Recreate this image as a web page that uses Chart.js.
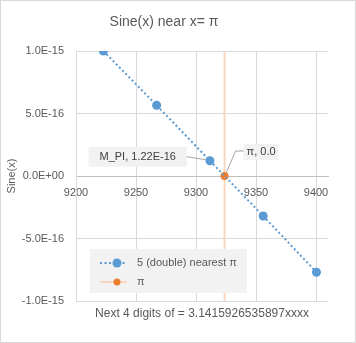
<!DOCTYPE html>
<html><head><meta charset="utf-8">
<script src="https://cdn.jsdelivr.net/npm/chart.js@4/dist/chart.umd.min.js"></script>
<style>
html,body{margin:0;padding:0;background:#fff;}
canvas{display:block;}
</style></head><body>
<canvas id="c" width="356" height="343"></canvas>
<script>
// ---- data ----
const titleText = 'Sine(x) near x= π';
const xTitleText = 'Next 4 digits of = 3.1415926535897xxxx';
const yTitleText = 'Sine(x)';
const seriesName = '5 (double) nearest π';
const piName = 'π';
const nearestX = [9222.8, 9267.2, 9311.6, 9356.0, 9400.4];
const nearestSin = [1.0e-15, 5.66e-16, 1.22e-16, -3.2e-16, -7.7e-16];
const piX = [9323.8];
const piSin = [0];
const mpiIndex = 2;
const mpiLabelName = 'M_PI';
const xTicks = [9200, 9250, 9300, 9350, 9400];
const yTicks = [-1e-15, -5e-16, 0, 5e-16, 1e-15];
const xMin = 9200, xMax = 9410;
const yMin = -1e-15, yMax = 1e-15;

const FONT = "'Liberation Sans', Arial, sans-serif";
const TXT = '#595959';
const BLUE = '#5b9bd5';
const ORANGE = '#ed7d31';
const ORANGE_LIGHT = '#f9d6bf';

function fmtE(v, d) {
  if (Math.abs(v) < 1e-30) v = 0;
  const s = v.toExponential(d).toUpperCase();
  const m = s.match(/^(-?[\d.]+)E([+-])(\d+)$/);
  return m[1] + 'E' + m[2] + (m[3].length < 2 ? '0' + m[3] : m[3]);
}

const nearestData = nearestX.map((x, i) => ({x: x, y: nearestSin[i]}));
const piLineData = [{x: piX[0], y: yMin}, {x: piX[0], y: piSin[0]}, {x: piX[0], y: yMax}];

const overlay = {
  id: 'overlay',
  afterDatasetsDraw(chart) {
    const ctx = chart.ctx;
    const xs = chart.scales.x, ys = chart.scales.y;
    ctx.save();
    ctx.font = "11px " + FONT;
    ctx.textBaseline = 'middle';
    // M_PI label
    const px = xs.getPixelForValue(nearestX[mpiIndex]);
    const py = ys.getPixelForValue(nearestSin[mpiIndex]);
    const t1 = mpiLabelName + ', ' + fmtE(nearestSin[mpiIndex], 2);
    const w1 = ctx.measureText(t1).width + 22;
    const bx1 = px - 23 - w1, by1 = py - 14;
    ctx.fillStyle = '#f2f2f2';
    ctx.fillRect(bx1, by1, w1, 20);
    ctx.strokeStyle = '#a6a6a6'; ctx.lineWidth = 1;
    ctx.beginPath(); ctx.moveTo(bx1 + w1, py - 4); ctx.lineTo(px - 4, py - 1); ctx.stroke();
    ctx.fillStyle = '#404040'; ctx.textAlign = 'center';
    ctx.fillText(t1, bx1 + w1 / 2, by1 + 10);
    // pi label
    const qx = xs.getPixelForValue(piX[0]);
    const qy = ys.getPixelForValue(piSin[0]);
    const t2 = piName + ', ' + piSin[0].toFixed(1);
    const w2 = ctx.measureText(t2).width + 6;
    const bx2 = qx + 19, by2 = qy - 32;
    ctx.fillStyle = '#f2f2f2';
    ctx.fillRect(bx2, by2, w2, 16);
    ctx.strokeStyle = '#a6a6a6';
    ctx.beginPath(); ctx.moveTo(qx + 2, qy - 4); ctx.lineTo(qx + 11, qy - 25); ctx.lineTo(bx2, qy - 25); ctx.stroke();
    ctx.fillStyle = '#404040';
    ctx.fillText(t2, bx2 + w2 / 2, by2 + 8);
    // legend
    const lx = 90, ly = 249, lw = 157, lh = 44;
    ctx.fillStyle = '#f2f2f2';
    ctx.fillRect(lx, ly, lw, lh);
    const ds = chart.data.datasets;
    const rows = [ly + 14, ly + 33];
    ctx.strokeStyle = BLUE; ctx.lineWidth = 2; ctx.setLineDash([2, 2.5]);
    ctx.beginPath(); ctx.moveTo(lx + 10, rows[0]); ctx.lineTo(lx + 37, rows[0]); ctx.stroke();
    ctx.setLineDash([]);
    ctx.fillStyle = BLUE; ctx.beginPath(); ctx.arc(lx + 27, rows[0], 4.5, 0, Math.PI * 2); ctx.fill();
    ctx.strokeStyle = ORANGE_LIGHT; ctx.lineWidth = 2;
    ctx.beginPath(); ctx.moveTo(lx + 10, rows[1]); ctx.lineTo(lx + 37, rows[1]); ctx.stroke();
    ctx.fillStyle = ORANGE; ctx.beginPath(); ctx.arc(lx + 27, rows[1], 3.5, 0, Math.PI * 2); ctx.fill();
    ctx.fillStyle = TXT; ctx.textAlign = 'left';
    ctx.fillText(ds[0].label, lx + 47, rows[0]);
    ctx.fillText(ds[1].label, lx + 47, rows[1]);
    // chart border
    ctx.strokeStyle = '#d9d9d9'; ctx.lineWidth = 1;
    ctx.strokeRect(0.5, 0.5, chart.width - 1, chart.height - 1);
    ctx.restore();
  }
};

new Chart(document.getElementById('c'), {
  type: 'scatter',
  data: {
    datasets: [
      {
        label: seriesName,
        data: nearestData,
        showLine: true,
        borderColor: BLUE,
        borderWidth: 2,
        borderDash: [2, 2.5],
        backgroundColor: BLUE,
        pointBackgroundColor: BLUE,
        pointBorderWidth: 0,
        pointRadius: 4.5,
        order: 1
      },
      {
        label: piName,
        data: piLineData,
        showLine: true,
        borderColor: ORANGE_LIGHT,
        borderWidth: 2,
        backgroundColor: ORANGE,
        pointBackgroundColor: ORANGE,
        pointBorderWidth: 0,
        pointRadius: [0, 4, 0],
        order: 2
      }
    ]
  },
  options: {
    responsive: false,
    animation: false,
    layout: {padding: {left: 0, right: 28, top: 0, bottom: 0}},
    plugins: {
      legend: {display: false},
      tooltip: {enabled: false},
      title: {
        display: true, text: titleText, color: TXT,
        font: {family: FONT, size: 14, weight: 'normal', lineHeight: 1.2},
        padding: {top: 14, bottom: 20.2}
      },
      subtitle: {
        display: true, position: 'bottom', fullSize: false, text: xTitleText, color: TXT,
        font: {family: FONT, size: 12, weight: 'normal', lineHeight: 1.2},
        padding: {top: 5, bottom: 22.6}
      }
    },
    scales: {
      x: {
        type: 'linear', min: xMin, max: xMax,
        position: {y: 0},
        afterBuildTicks: (s) => { s.ticks = xTicks.map(v => ({value: v})); },
        grid: {color: '#d9d9d9', drawTicks: false, lineWidth: 1},
        border: {display: true, color: '#bfbfbf'},
        ticks: {color: TXT, font: {family: FONT, size: 11}, padding: 10, maxRotation: 0, callback: (v) => String(v)}
      },
      y: {
        type: 'linear', min: yMin, max: yMax, position: 'left',
        afterBuildTicks: (s) => { s.ticks = yTicks.map(v => ({value: v})); },
        afterFit: (s) => { s.width = 76; },
        grid: {color: '#d9d9d9', drawTicks: false, lineWidth: 1},
        border: {display: true, color: '#d9d9d9'},
        title: {display: true, text: yTitleText, color: TXT, font: {family: FONT, size: 11}, padding: {top: 5, bottom: 0}},
        ticks: {color: TXT, font: {family: FONT, size: 11}, padding: 12, callback: (v) => fmtE(v, 1)}
      }
    }
  },
  plugins: [overlay]
});
</script>
</body></html>
